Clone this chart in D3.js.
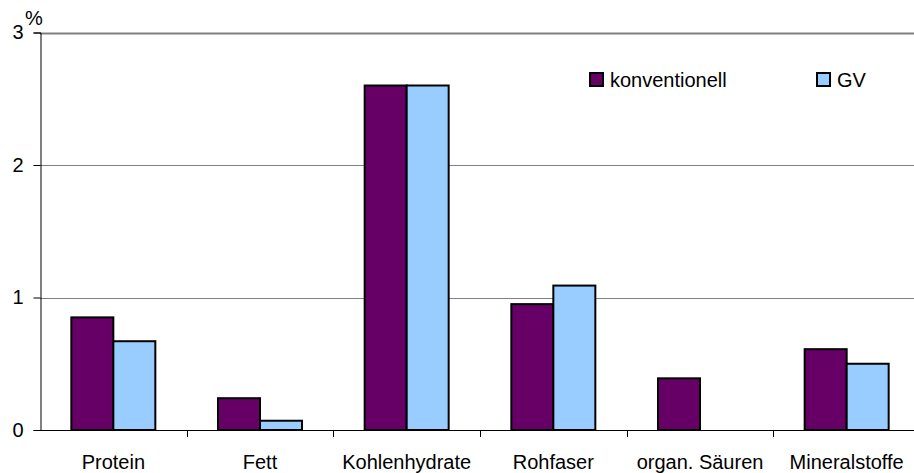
<!DOCTYPE html>
<html>
<head>
<meta charset="utf-8">
<script src="https://cdn.jsdelivr.net/npm/d3@7"></script>
<style>
  body { margin: 0; background: #fff; }
  svg text { font-family: "Liberation Sans", Arial, sans-serif; fill: #000; }
</style>
</head>
<body>
<svg id="chart" width="914" height="473"></svg>
<script>
var categories = ['Protein', 'Fett', 'Kohlenhydrate', 'Rohfaser', 'organ. Säuren', 'Mineralstoffe'];
var seriesNames = ['konventionell', 'GV'];
var konventionell = [0.85, 0.24, 2.60, 0.95, 0.39, 0.61];
var gv = [0.67, 0.07, 2.60, 1.09, 0, 0.50];
var yTicks = [0, 1, 2, 3];
var colors = ['#660066', '#99ccff'];

(function () {
    'use strict';

    var svg = d3.select('#chart'),
        left = 40,
        right = 920,
        plotTop = 32.5,
        bottom = 430,
        fontSize = '20px';

    var x = d3.scaleBand()
        .domain(categories)
        .range([left, right]);

    var y = d3.scaleLinear()
        .domain([0, 3])
        .range([bottom, plotTop]);

    var xSub = d3.scaleBand()
        .domain(seriesNames)
        .range([0, 84]);

    // gridlines
    svg.append('g')
        .selectAll('line')
        .data(yTicks.slice(1))
        .enter().append('line')
        .attr('x1', left)
        .attr('x2', right)
        .attr('y1', function (d) { return Math.round(y(d)) + 0.5; })
        .attr('y2', function (d) { return Math.round(y(d)) + 0.5; })
        .style('stroke', '#808080')
        .style('stroke-width', function (d) { return d === 3 ? 2 : 1; });

    // bars
    var rows = categories.map(function (c, i) {
        return { cat: c, values: [konventionell[i], gv[i]] };
    });

    var groups = svg.append('g')
        .selectAll('g')
        .data(rows)
        .enter().append('g')
        .attr('transform', function (d) {
            return 'translate(' + (x(d.cat) + x.bandwidth() / 2 - 42) + ',0)';
        });

    groups.selectAll('rect')
        .data(function (d) {
            return d.values.map(function (v, j) { return { name: seriesNames[j], v: v, j: j }; })
                .filter(function (e) { return e.v > 0; });
        })
        .enter().append('rect')
        .attr('x', function (d) { return xSub(d.name); })
        .attr('y', function (d) { return y(d.v); })
        .attr('width', xSub.bandwidth())
        .attr('height', function (d) { return bottom - y(d.v); })
        .style('fill', function (d) { return colors[d.j]; })
        .style('stroke', '#000')
        .style('stroke-width', 2);

    // y axis
    var yAxis = svg.append('g')
        .attr('transform', 'translate(' + (left + 0.5) + ',0)')
        .call(d3.axisLeft(y).tickValues(yTicks).tickFormat(d3.format('d')).tickSizeOuter(0).tickSize(7).tickPadding(10));
    yAxis.select('.domain').style('stroke', '#000');
    yAxis.selectAll('.tick line').style('stroke', '#000');
    yAxis.selectAll('.tick text')
        .style('font-size', fontSize)
        .style('font-family', '"Liberation Sans", Arial, sans-serif');

    svg.append('text')
        .attr('x', 25)
        .attr('y', 25)
        .style('font-size', fontSize)
        .text('%');

    // x axis
    var xAxis = svg.append('g')
        .attr('transform', 'translate(0,' + (bottom + 0.5) + ')')
        .call(d3.axisBottom(x).tickSize(0).tickPadding(24));
    xAxis.select('.domain').remove();
    xAxis.selectAll('.tick text')
        .style('font-size', fontSize)
        .style('font-family', '"Liberation Sans", Arial, sans-serif');

    svg.append('line')
        .attr('x1', left)
        .attr('x2', right)
        .attr('y1', bottom + 0.5)
        .attr('y2', bottom + 0.5)
        .style('stroke', '#000');

    svg.append('g')
        .selectAll('line')
        .data(categories.slice(1))
        .enter().append('line')
        .attr('x1', function (d) { return Math.round(x(d)) + 0.5; })
        .attr('x2', function (d) { return Math.round(x(d)) + 0.5; })
        .attr('y1', bottom)
        .attr('y2', bottom + 7)
        .style('stroke', '#000');

    // legend
    var legendX = [590, 817];
    var legend = svg.append('g')
        .selectAll('g')
        .data(seriesNames)
        .enter().append('g')
        .attr('transform', function (d, i) { return 'translate(' + legendX[i] + ',73)'; });

    legend.append('rect')
        .attr('width', 13)
        .attr('height', 13)
        .style('fill', function (d, i) { return colors[i]; })
        .style('stroke', '#000')
        .style('stroke-width', 2);

    legend.append('text')
        .attr('x', 20)
        .attr('y', 14)
        .style('font-size', fontSize)
        .text(function (d) { return d; });
})();
</script>
</body>
</html>
